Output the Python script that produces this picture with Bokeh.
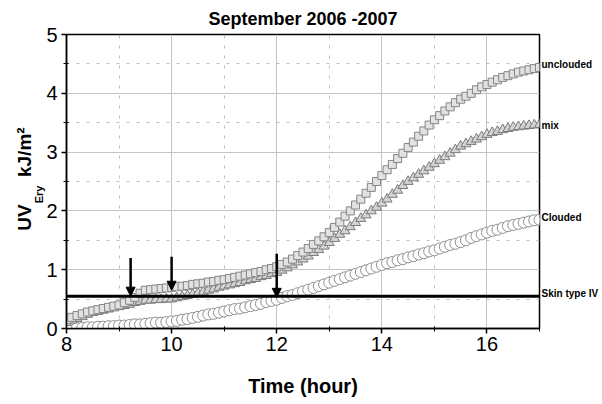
import math
from bokeh.plotting import figure
from bokeh.models import (Arrow, NormalHead, Span, FixedTicker, LinearAxis,
                          ColumnDataSource, Range1d)
from bokeh.embed import file_html
from bokeh.resources import INLINE

# ---------------- data ----------------
hours = [round(8 + 0.1 * i, 1) for i in range(91)]

unclouded = [0.15, 0.19, 0.22, 0.25, 0.28, 0.30, 0.32, 0.34, 0.36, 0.38,
             0.40, 0.44, 0.48, 0.53, 0.60, 0.65, 0.66, 0.67, 0.68, 0.69,
             0.70, 0.71, 0.72, 0.73, 0.75, 0.76, 0.77, 0.79, 0.80, 0.82,
             0.83, 0.85, 0.87, 0.89, 0.91, 0.93, 0.95, 0.97, 1.00, 1.02,
             1.05, 1.09, 1.13, 1.18, 1.24, 1.30, 1.36, 1.43, 1.49, 1.56,
             1.63, 1.72, 1.81, 1.91, 2.00, 2.10, 2.20, 2.30, 2.40, 2.50,
             2.60, 2.70, 2.79, 2.89, 2.98, 3.08, 3.17, 3.27, 3.36, 3.46,
             3.55, 3.62, 3.70, 3.77, 3.84, 3.90, 3.95, 4.00, 4.06, 4.11,
             4.15, 4.19, 4.23, 4.27, 4.30, 4.33, 4.36, 4.38, 4.40, 4.42,
             4.44]

mix = [0.10, 0.14, 0.17, 0.20, 0.24, 0.27, 0.29, 0.31, 0.33, 0.35,
       0.37, 0.39, 0.41, 0.44, 0.46, 0.48, 0.48, 0.49, 0.49, 0.50,
       0.50, 0.52, 0.54, 0.56, 0.58, 0.60, 0.62, 0.65, 0.67, 0.70,
       0.72, 0.74, 0.76, 0.78, 0.81, 0.83, 0.85, 0.88, 0.90, 0.93,
       0.95, 0.99, 1.03, 1.08, 1.13, 1.18, 1.23, 1.29, 1.34, 1.40,
       1.46, 1.53, 1.60, 1.66, 1.73, 1.80, 1.87, 1.93, 2.00, 2.06,
       2.13, 2.20, 2.28, 2.35, 2.43, 2.50, 2.56, 2.62, 2.68, 2.74,
       2.80, 2.86, 2.92, 2.98, 3.04, 3.10, 3.14, 3.18, 3.22, 3.26,
       3.30, 3.33, 3.35, 3.38, 3.40, 3.42, 3.43, 3.44, 3.45, 3.46,
       3.47]

clouded = [0.00, 0.00, 0.01, 0.01, 0.02, 0.02, 0.03, 0.03, 0.04, 0.04,
           0.05, 0.05, 0.06, 0.07, 0.07, 0.08, 0.09, 0.10, 0.10, 0.11,
           0.12, 0.13, 0.15, 0.16, 0.18, 0.20, 0.22, 0.24, 0.25, 0.27,
           0.29, 0.31, 0.33, 0.34, 0.36, 0.38, 0.40, 0.42, 0.45, 0.47,
           0.49, 0.52, 0.55, 0.57, 0.60, 0.63, 0.66, 0.69, 0.72, 0.75,
           0.78, 0.81, 0.84, 0.87, 0.90, 0.93, 0.96, 0.99, 1.02, 1.05,
           1.08, 1.11, 1.13, 1.16, 1.18, 1.21, 1.23, 1.26, 1.28, 1.31,
           1.33, 1.36, 1.39, 1.42, 1.44, 1.47, 1.50, 1.54, 1.57, 1.60,
           1.63, 1.66, 1.68, 1.71, 1.74, 1.76, 1.78, 1.80, 1.82, 1.84,
           1.85]

skin_type_iv = 0.55

arrow_x = [9.22, 10.0, 12.0]
arrow_top = [1.20, 1.22, 1.27]
arrow_tip = [0.55, 0.65, 0.53]

x_major = [8, 10, 12, 14, 16]
x_minor = [9, 11, 13, 15, 17]
y_major = [0, 1, 2, 3, 4, 5]
y_minor = [0.5, 1.5, 2.5, 3.5, 4.5]

series_names = ["unclouded", "mix", "Clouded", "Skin type IV"]
series_label_y = [4.49, 3.45, 1.89, 0.60]

# ---------------- figure ----------------
FONT = "Liberation Sans"

p = figure(frame_width=473, frame_height=294,
           min_border_left=66, min_border_right=20,
           min_border_top=34, min_border_bottom=40,
           x_range=Range1d(8, 17), y_range=Range1d(0, 5),
           output_backend="svg", toolbar_location=None,
           title="September 2006 -2007")

p.title.align = "center"
p.title.text_font = FONT
p.title.text_font_size = "18px"
p.title.text_font_style = "bold"
p.title.text_color = "black"
p.title.standoff = 12

p.background_fill_color = "white"
p.border_fill_color = "white"
p.outline_line_color = "black"
p.outline_line_width = 1.5

xt = FixedTicker(ticks=x_major, minor_ticks=x_minor)
yt = FixedTicker(ticks=y_major, minor_ticks=y_minor)
p.xaxis.ticker = xt
p.yaxis.ticker = yt
p.xgrid.ticker = xt
p.ygrid.ticker = yt

for g in (p.xgrid, p.ygrid):
    g.grid_line_color = "#c4c4c4"
    g.grid_line_width = 1
    g.minor_grid_line_color = "#bdbdbd"
    g.minor_grid_line_dash = "3 7"
    g.minor_grid_line_width = 1

for ax in (p.xaxis, p.yaxis):
    ax.axis_line_color = "black"
    ax.axis_line_width = 1.5
    ax.major_tick_line_color = "black"
    ax.major_tick_line_width = 1.5
    ax.major_tick_out = 5
    ax.major_tick_in = 0
    ax.minor_tick_line_color = "black"
    ax.minor_tick_out = 3
    ax.minor_tick_in = 2
    ax.major_label_text_font = FONT
    ax.major_label_text_font_size = "20px"
    ax.major_label_text_color = "black"

p.xaxis.major_label_standoff = 3
p.yaxis.major_label_standoff = 4

p.xaxis.axis_label = "Time (hour)"
p.xaxis.axis_label_text_font = FONT
p.xaxis.axis_label_text_font_size = "20px"
p.xaxis.axis_label_text_font_style = "bold"
p.xaxis.axis_label_text_color = "black"
p.xaxis.axis_label_standoff = 21


def label_axis(positions, texts, size, orientation="horizontal", standoff=0):
    """A line-less, tick-less axis used only to place text beside the frame."""
    return LinearAxis(ticker=FixedTicker(ticks=positions, minor_ticks=[]),
                      major_label_overrides={v: t for v, t in zip(positions, texts)},
                      major_label_orientation=orientation,
                      axis_line_color=None, major_tick_line_color=None,
                      minor_tick_line_color=None, major_tick_out=0, major_tick_in=0,
                      minor_tick_out=0, minor_tick_in=0,
                      major_label_standoff=standoff,
                      major_label_text_font=FONT, major_label_text_font_size=size,
                      major_label_text_font_style="bold",
                      major_label_text_color="black")


# right-hand series labels
p.add_layout(label_axis(series_label_y, series_names, "10px", standoff=2), "right")

# y-axis title: UV_Ery kJ/m²  (vertical labels end at their tick position;
# the subscript column sits nearer the frame)
p.add_layout(label_axis([2.43], ["Ery"], "11px", orientation=math.pi / 2,
                        standoff=4), "left")
p.add_layout(label_axis([2.11, 3.42], ["UV", "kJ/m\u00b2"], "19px",
                        orientation=math.pi / 2), "left")

# ---------------- series ----------------
src = ColumnDataSource(dict(h=hours, unclouded=unclouded, mix=mix, clouded=clouded))

p.scatter("h", "clouded", source=src, marker="circle", size=11,
          fill_color="white", line_color="#8f8f8f", line_width=1)
p.scatter("h", "mix", source=src, marker="triangle", size=10,
          fill_color="#d4d4d4", line_color="#7a7a7a", line_width=1)
p.scatter("h", "unclouded", source=src, marker="square", size=8,
          fill_color="#e2e2e2", line_color="#858585", line_width=1)

p.add_layout(Span(location=skin_type_iv, dimension="width",
                  line_color="black", line_width=3))

# ---------------- arrows ----------------
asrc = ColumnDataSource(dict(x0=arrow_x, y0=arrow_top, x1=arrow_x, y1=arrow_tip))
p.add_layout(Arrow(end=NormalHead(size=9, fill_color="black", line_color="black"),
                   x_start="x0", y_start="y0", x_end="x1", y_end="y1",
                   source=asrc, line_color="black", line_width=2.5))

open("out.html", "w").write(file_html(p, INLINE))
